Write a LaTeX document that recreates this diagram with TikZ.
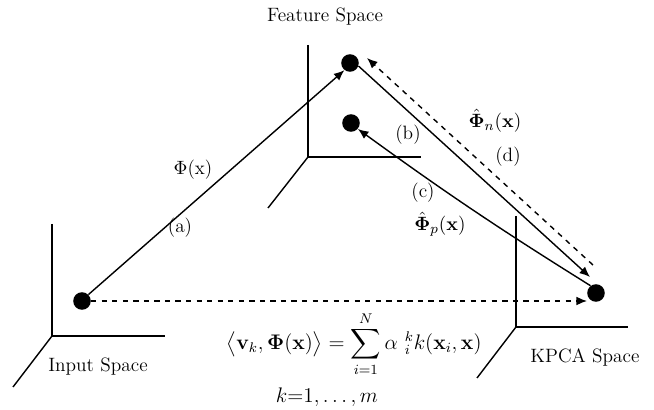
\documentclass[tikz,border=0pt]{standalone}
\usepackage{amsmath, amssymb}
\usetikzlibrary{arrows.meta, calc}

\begin{document}
\begin{tikzpicture}[x=0.02cm, y=0.02cm,
        dot/.style={circle, fill=black, inner sep=0pt, minimum width=9.2pt, minimum height=10pt},
        axis/.style={line width=0.8pt},
        arr/.style={line width=0.8pt, -{Latex[length=6pt, width=5pt]}},
        lbl/.style={font=\fontsize{11}{13}\selectfont}]
        \useasboundingbox (0,0) rectangle (654,410);
        % Achsen Input Space
        \draw[axis] (52,186) -- (52,74) -- (165,74);
        \draw[axis] (52,74) -- (13,23);
        \node[lbl] (intxt) at (98,43) {Input Space};
        % Achsen Feature Space
        \draw[axis] (308,365) -- (308,253) -- (421,253);
        \draw[axis] (308,253) -- (268,202);
        \node[lbl] (fstxt) at (325,393) {Feature Space};
        % Achsen KPCA Space
        \draw[axis] (516,194) -- (516,83) -- (628,83);
        \draw[axis] (516,83) -- (477,32);
        \node[lbl] (kptxt) at (585,53) {KPCA Space};
        % Punkte
        \node[dot] (in) at (82,109) {};
        \node[dot] (f1) at (350,347) {};
        \node[dot] (f2) at (351,287) {};
        \node[dot] (kp) at (596,117) {};
        % (a) Abbildung in den Feature Space
        \draw[arr] (in.45) -- (f1.232);
        \node[lbl] (phi) at (193,240) {$\Phi$(x)};
        \node[lbl] (la) at (180,182) {(a)};
        % Projektion Input -> KPCA
        \draw[arr, dashed] (in.east) -- ($(kp)+(-9,-8)$);
        % (b) Feature -> KPCA
        \draw[arr] (f1.-20) -- ($(kp)+(-6,16)$);
        \node[lbl] (lb) at (408,275) {(b)};
        % (d) Rueckprojektion
        \draw[arr, dashed] ($(kp)+(-3,28)$) -- ($(f1)+(17,5)$);
        \node[lbl] (ld) at (508,253) {(d)};
        \node[lbl] (phin) at (495,289) {$\hat{\mathbf{\Phi}}_n(\mathbf{x})$};
        % (c) KPCA -> Feature
        \draw[arr] (kp.127) to[bend left=2] (f2.-41);
        \node[lbl] (lc) at (423,217) {(c)};
        \node[lbl] (phip) at (440,186) {$\hat{\mathbf{\Phi}}_p(\mathbf{x})$};
        % Formel
        \node[font=\large] (eq) at (354,66)
            {$\displaystyle \bigl\langle \mathbf{v}_k, \mathbf{\Phi}(\mathbf{x}) \bigr\rangle = \sum_{i=1}^{N} \alpha\ {}^{k}_{i} k(\mathbf{x}_i, \mathbf{x})$};
        \node[font=\large] (kr) at (327,13) {$k{=}1,\ldots,m$};
    \end{tikzpicture}
\end{document}
